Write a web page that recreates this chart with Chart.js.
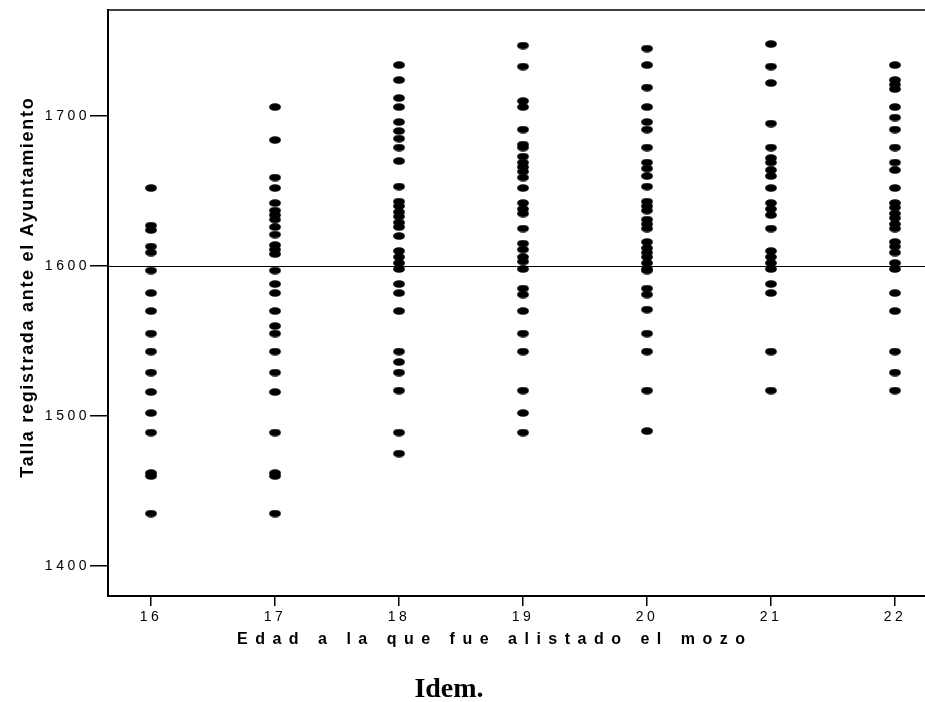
<!DOCTYPE html>
<html><head><meta charset="utf-8">
<script src="https://cdn.jsdelivr.net/npm/chart.js@4.4.0/dist/chart.umd.min.js"></script>
<style>html,body{margin:0;padding:0;background:#fff;overflow:hidden}canvas{display:block}</style>
</head><body>
<canvas id="c" width="925" height="702"></canvas>
<script>
// ---- data ----
const ages = [16, 17, 18, 19, 20, 21, 22];
const h16 = [1652, 1627, 1624, 1613, 1609, 1597, 1582, 1570, 1555, 1543, 1529, 1516, 1502, 1489, 1462, 1460, 1435];
const h17 = [1706, 1684, 1659, 1652, 1642, 1637, 1634, 1631, 1626, 1621, 1614, 1611, 1608, 1597, 1588, 1582, 1570, 1560, 1555, 1543, 1529, 1516, 1489, 1462, 1460, 1435];
const h18 = [1734, 1724, 1712, 1706, 1696, 1690, 1685, 1679, 1670, 1653, 1643, 1640, 1636, 1633, 1629, 1626, 1620, 1610, 1606, 1602, 1598, 1588, 1582, 1570, 1543, 1536, 1529, 1517, 1489, 1475];
const h19 = [1747, 1733, 1710, 1706, 1691, 1681, 1679, 1673, 1669, 1666, 1663, 1659, 1652, 1642, 1638, 1635, 1625, 1615, 1611, 1606, 1603, 1598, 1585, 1581, 1570, 1555, 1543, 1517, 1502, 1489];
const h20 = [1745, 1734, 1719, 1706, 1696, 1691, 1679, 1669, 1665, 1660, 1653, 1643, 1640, 1637, 1631, 1628, 1625, 1616, 1612, 1609, 1606, 1602, 1598, 1597, 1585, 1581, 1571, 1555, 1543, 1517, 1490];
const h21 = [1748, 1733, 1722, 1695, 1679, 1672, 1669, 1664, 1660, 1652, 1642, 1638, 1634, 1625, 1610, 1606, 1602, 1598, 1588, 1582, 1543, 1517];
const h22 = [1734, 1724, 1721, 1718, 1706, 1699, 1691, 1679, 1669, 1664, 1652, 1642, 1639, 1635, 1632, 1628, 1625, 1616, 1613, 1609, 1602, 1598, 1582, 1570, 1543, 1529, 1517];
const yTicks = [1400, 1500, 1600, 1700];
const refLine = 1600;
const xTitle = 'Edad a la que fue alistado el mozo';
const yTitle = 'Talla registrada ante el Ayuntamiento';
const caption = 'Idem.';

const heights = [h16, h17, h18, h19, h20, h21, h22];
const points = [];
ages.forEach((a, i) => heights[i].forEach(h => points.push({ x: a, y: h })));

// elliptical marker
const mk = document.createElement('canvas');
mk.width = 12; mk.height = 8;
const mc = mk.getContext('2d');
mc.fillStyle = '#000';
mc.beginPath(); mc.ellipse(6, 4, 5.9, 3.8, 0, 0, Math.PI * 2); mc.fill();

const SANS = '"Liberation Sans", Arial, sans-serif';

const deco = {
  id: 'deco',
  beforeDraw(chart) { chart.ctx.letterSpacing = '3.5px'; },
  beforeDatasetsDraw(chart) {
    const { ctx, chartArea: a, scales: { y } } = chart;
    ctx.save();
    ctx.letterSpacing = '0px';
    ctx.strokeStyle = '#000';
    const py = Math.round(y.getPixelForValue(refLine)) + 0.5;
    ctx.lineWidth = 1;
    ctx.beginPath(); ctx.moveTo(a.left, py); ctx.lineTo(a.right, py); ctx.stroke();
    ctx.lineWidth = 1.5;
    ctx.beginPath(); ctx.moveTo(a.left, a.top); ctx.lineTo(a.right, a.top); ctx.stroke();
    ctx.restore();
  },
  afterDraw(chart) {
    const ctx = chart.ctx;
    ctx.save();
    ctx.fillStyle = '#000';
    ctx.textAlign = 'center';
    ctx.textBaseline = 'middle';
    // y title
    ctx.save();
    ctx.translate(28, 288);
    ctx.rotate(-Math.PI / 2);
    ctx.font = 'bold 18px ' + SANS;
    ctx.letterSpacing = '1.7px';
    ctx.fillText(yTitle, 0.85, 0);
    ctx.restore();
    // x title
    ctx.font = 'bold 16px ' + SANS;
    ctx.letterSpacing = '7.5px';
    ctx.fillText(xTitle, 491 + 3.75, 640);
    // caption
    ctx.font = 'bold 28px "Liberation Serif", "Times New Roman", serif';
    ctx.letterSpacing = '0px';
    ctx.fillText(caption, 449, 690);
    ctx.restore();
    ctx.letterSpacing = '0px';
  }
};

new Chart(document.getElementById('c'), {
  type: 'scatter',
  data: {
    datasets: [{
      data: points,
      pointStyle: mk,
      radius: 6,
      hoverRadius: 6,
      backgroundColor: '#000',
      borderColor: '#000'
    }]
  },
  options: {
    responsive: false,
    animation: false,
    events: [],
    layout: { autoPadding: false, padding: { top: 10, left: 0, right: 0, bottom: 0 } },
    plugins: { legend: { display: false }, tooltip: { enabled: false } },
    scales: {
      x: {
        type: 'linear',
        min: 15.653,
        max: 22.242,
        afterFit(s) { s.height = 106; s.paddingLeft = 0; s.paddingRight = 0; },
        afterBuildTicks(s) { s.ticks = ages.map(v => ({ value: v })); },
        grid: { drawOnChartArea: false, drawTicks: true, tickLength: 10, color: '#000', lineWidth: 1.5 },
        border: { display: true, color: '#000', width: 2 },
        ticks: { color: '#000', padding: 3, maxRotation: 0, font: { family: SANS, size: 14 }, callback: v => String(v) }
      },
      y: {
        type: 'linear',
        min: 1380,
        max: 1770.7,
        afterFit(s) { s.width = 108; s.paddingTop = 0; s.paddingBottom = 0; },
        afterBuildTicks(s) { s.ticks = yTicks.map(v => ({ value: v })); },
        grid: { drawOnChartArea: false, drawTicks: true, tickLength: 18, color: '#000', lineWidth: 1.5 },
        border: { display: true, color: '#000', width: 2 },
        ticks: { color: '#000', padding: 0, font: { family: SANS, size: 14 }, callback: v => String(v) }
      }
    }
  },
  plugins: [deco]
});
</script>
</body></html>
